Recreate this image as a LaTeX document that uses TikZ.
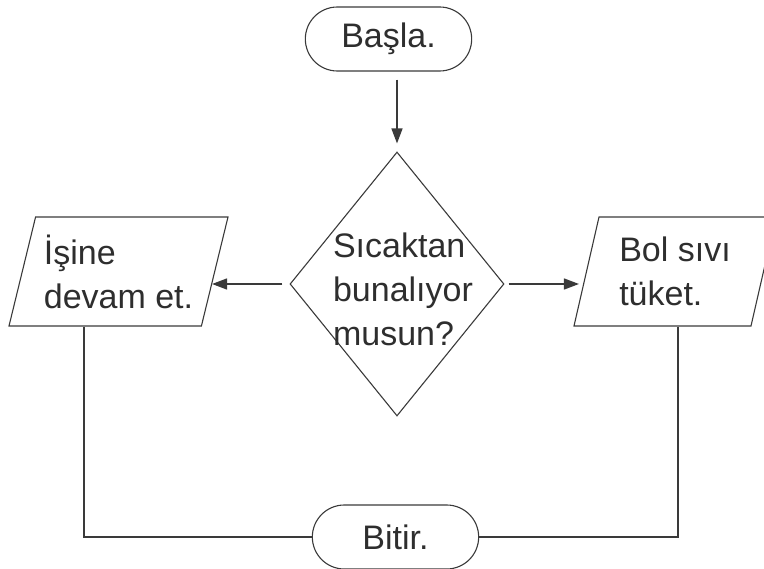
\documentclass[tikz,border=0pt]{standalone}
\usepackage{fontspec}
\setmainfont{Liberation Sans}
\usetikzlibrary{arrows.meta, shapes.geometric, shapes.misc}
\definecolor{lineGray}{HTML}{3A3A3A}
\definecolor{textGray}{HTML}{2E2E2E}

\begin{document}
\begin{tikzpicture}[x=1pt, y=-1pt,
  font=\fontsize{34}{44}\selectfont, text=textGray,
  terminal/.style={draw=lineGray, line width=1.1pt, rounded rectangle, minimum width=173pt, minimum height=64pt},
  decision/.style={draw=lineGray, line width=1.1pt, diamond, minimum width=214pt, minimum height=264pt, inner sep=0pt},
  io/.style={draw=lineGray, line width=1.1pt, trapezium, trapezium left angle=72, trapezium right angle=108,
    trapezium stretches body, minimum height=109pt, align=left, inner sep=4pt},
  flow/.style={draw=lineGray, line width=1.4pt, -{Triangle[length=15pt,width=11pt]}},
  link/.style={draw=lineGray, line width=1.4pt}]
\clip (0,0) rectangle (764,569);

% Start and end
\node[terminal] (basla) at (388.5,39) {Başla.};
\node[terminal] (bitir) at (395.5,537) {Bitir.};

% Question
\node[decision] (soru) at (397,284) {};
\node[align=left] (soruyazi) at ([xshift=6pt, yshift=-5pt]soru.center) {Sıcaktan\\bunalıyor\\musun?};

% Answers
\node[io, minimum width=219pt] (isine) at (118.5,271.5) {İşine\\devam et.};
\node[io, minimum width=202pt] (tuket) at (675,271.5) {Bol sıvı\\tüket.};

% Arrows
\draw[flow, shorten <=8pt, shorten >=8pt] (basla.south -| soru.north) -- (soru.north);
\draw[flow, shorten <=7pt] (soru.west) -- (soru.west -| isine.-8);
\draw[flow, shorten <=4pt, shorten >=4pt] (soru.east) -- (soru.east -| tuket.188);

% Lines down to the end
\coordinate (solalt) at (84,537);
\coordinate (sagalt) at (678,537);
\draw[link] (isine.south -| solalt) -- (solalt) -- (bitir.west);
\draw[link] (tuket.south -| sagalt) -- (sagalt) -- (bitir.east);
\end{tikzpicture}
\end{document}
